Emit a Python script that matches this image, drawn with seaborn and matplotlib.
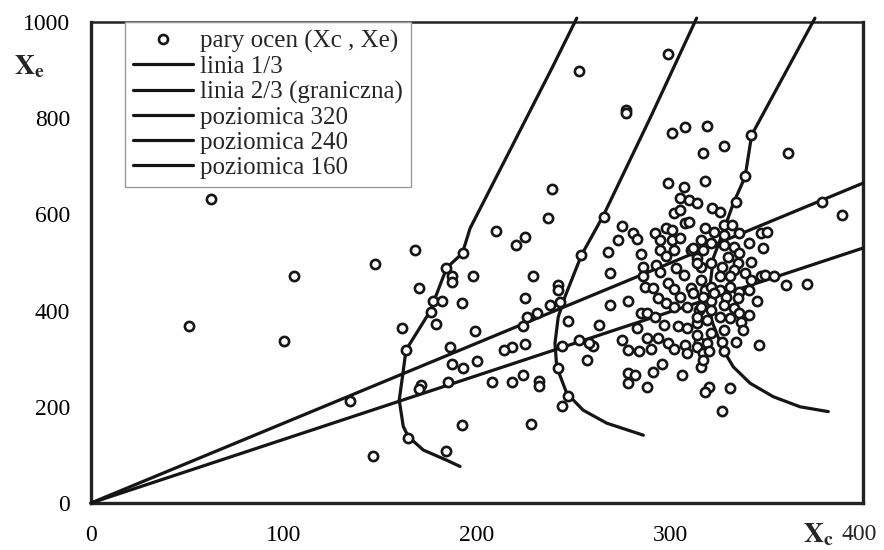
import matplotlib
matplotlib.use("Agg")
import matplotlib.pyplot as plt
from matplotlib.lines import Line2D
import seaborn as sns
import pandas as pd

# ---- data -------------------------------------------------------------
xc = [62, 51, 100, 105, 147, 168, 170, 161, 163, 134, 171, 170, 164, 146, 184,
      253, 239, 237, 210, 225, 220, 193, 254, 184, 187, 198, 187, 229, 242, 242,
      225, 177, 182, 192, 238, 243, 176, 231, 226, 179, 224, 247, 199, 186, 225,
      218, 214, 244, 253, 260, 258, 257, 187, 193, 200, 242, 185, 208, 218, 224,
      232, 232, 247, 244, 192, 228,
      299, 277, 277, 301, 308, 299, 307, 305, 310, 302, 305, 266, 275, 281, 283,
      273, 292, 298, 301, 308, 310, 268, 285, 269, 295, 295, 301, 305, 311, 298,
      302, 286, 293, 295, 303, 307, 314, 316, 286, 287, 291, 299, 302, 311, 318,
      278, 269, 285, 288, 294, 298, 305, 302, 309, 315, 321, 292, 297, 304, 309,
      314, 263, 283, 275, 288, 294, 299, 278, 284, 290, 302, 308, 315, 309, 296,
      291, 278, 282, 278, 288, 306,
      317, 319, 342, 328, 361, 339, 318, 334, 379, 389, 314, 322, 326, 328, 332,
      336, 318, 323, 328, 347, 350, 348, 341, 316, 321, 328, 333, 330, 312, 317,
      336, 342, 335, 314, 321, 327, 333, 339, 326, 331, 347, 349, 354, 360, 371,
      342, 341, 316, 321, 326, 331, 336, 312, 317, 323, 329, 345, 335, 316, 321,
      328, 333, 336, 341, 314, 319, 326, 331, 337, 338, 328, 321, 314, 334, 327,
      346, 319, 314, 317, 320, 328, 316, 317, 320, 318, 331, 327]
xe = [632, 368, 337, 472, 497, 527, 448, 364, 318, 213, 245, 236, 136, 98, 109,
      898, 652, 593, 566, 552, 536, 519, 516, 488, 471, 471, 460, 471, 453, 443,
      426, 419, 419, 415, 412, 417, 398, 394, 387, 372, 367, 379, 358, 324, 331,
      324, 318, 326, 339, 326, 332, 297, 290, 280, 295, 281, 252, 252, 252, 266,
      254, 243, 222, 202, 162, 164,
      934, 817, 810, 769, 782, 666, 656, 635, 629, 602, 609, 595, 576, 561, 548,
      547, 562, 571, 568, 582, 585, 521, 517, 478, 547, 527, 547, 550, 527, 514,
      527, 490, 495, 480, 488, 474, 509, 491, 471, 450, 446, 457, 444, 446, 443,
      420, 412, 396, 394, 426, 415, 429, 408, 408, 401, 419, 387, 370, 367, 363,
      374, 370, 363, 339, 342, 342, 332, 318, 317, 320, 320, 329, 335, 311, 290,
      273, 270, 266, 249, 242, 266,
      727, 784, 765, 742, 727, 680, 670, 625, 626, 599, 623, 613, 606, 578, 578,
      562, 571, 564, 557, 561, 564, 530, 540, 547, 540, 536, 533, 512, 530, 526,
      519, 502, 498, 498, 498, 491, 484, 478, 471, 471, 471, 474, 472, 453, 455,
      464, 443, 464, 450, 443, 450, 439, 436, 429, 436, 429, 419, 426, 408, 401,
      412, 405, 394, 391, 387, 381, 387, 384, 377, 360, 360, 353, 349, 335, 335,
      329, 332, 325, 311, 315, 315, 283, 297, 242, 231, 240, 191]

line_x = [0, 400]
line13_y = [0, 665]
line23_y = [0, 530]

c320_x = [375.1, 342.3, 338.9, 332.8, 328.5, 322.5, 320.5, 321.5, 327.6, 332.8, 341.5, 353.5, 367.4, 382.0]
c320_y = [1008, 765, 678, 623, 574, 510, 443, 380, 318, 283, 249, 221, 200, 190]

c240_x = [313.8, 290.5, 265.4, 254.2, 245.6, 242.1, 240.4, 241.3, 246.5, 255.0, 267.2, 286.2]
c240_y = [1008, 807, 597, 516, 429, 387, 332, 283, 228, 193, 166, 141]

c160_x = [251.7, 238.7, 196.4, 192.4, 184.3, 175.6, 163.2, 161.5, 159.7, 161.8, 164.4, 172.2, 184.3, 191.2]
c160_y = [1008, 903, 571, 519, 489, 398, 318, 266, 214, 159, 138, 110, 89, 76]

labels = ["pary ocen (Xc , Xe)", "linia 1/3", "linia 2/3 (graniczna)",
          "poziomica 320", "poziomica 240", "poziomica 160"]
xticks = [0, 100, 200, 300, 400]
yticks = [0, 200, 400, 600, 800, 1000]

# ---- style ------------------------------------------------------------
sns.set_theme(style="white")
plt.rcParams["font.family"] = ["Liberation Serif", "DejaVu Serif"]
plt.rcParams["mathtext.fontset"] = "stix"

INK = "#151515"
TICK_FS = 17
fig = plt.figure(figsize=(8.84, 5.5), dpi=100)
ax = fig.add_axes([91 / 884, 47 / 550, 772 / 884, 481 / 550])

lw = 2.3
curves = [(line_x, line13_y), (line_x, line23_y),
          (c320_x, c320_y), (c240_x, c240_y), (c160_x, c160_y)]
for cx, cy in curves:
    df = pd.DataFrame({"x": cx, "y": cy})
    sns.lineplot(data=df, x="x", y="y", sort=False, estimator=None,
                 color=INK, linewidth=lw, ax=ax, clip_on=False, zorder=3)

pts = pd.DataFrame({"Xc": xc, "Xe": xe})
sns.scatterplot(data=pts, x="Xc", y="Xe", ax=ax, marker="o", s=44,
                facecolor="white", edgecolor=INK, linewidth=1.9, zorder=4)

ax.set_xlim(0, 400)
ax.set_ylim(0, 1000)
ax.set_xticks(xticks)
ax.set_yticks(yticks)
ax.set_xticklabels([str(t) if t != 400 else "" for t in xticks])
ax.set_yticklabels([str(t) for t in yticks])
ax.set_xlabel("")
ax.set_ylabel("")
ax.tick_params(axis="both", which="both", direction="out", length=7,
               width=1, color="#777777", labelsize=TICK_FS, labelcolor="black")
ax.tick_params(axis="x", pad=9)
ax.tick_params(axis="y", pad=8)
for side in ["left", "bottom", "right", "top"]:
    ax.spines[side].set_color("#222222")
    ax.spines[side].set_linewidth(2.4 if side in ("left", "bottom", "right") else 1.8)

# axis labels
fig.text(859 / 884, 1 - 535 / 550, "400", ha="center", va="center", fontsize=TICK_FS)
fig.text(818 / 884, 1 - 535 / 550, r"$\mathbf{X_c}$", ha="center", va="center",
         fontsize=20)
fig.text(29 / 884, 1 - 67 / 550, r"$\mathbf{X_e}$", ha="center", va="center",
         fontsize=20)

handles = [Line2D([], [], marker="o", linestyle="none", markersize=6.5,
                  markerfacecolor="white", markeredgecolor=INK,
                  markeredgewidth=1.9)]
handles += [Line2D([], [], color=INK, linewidth=lw) for _ in range(5)]
leg = ax.legend(handles, labels, loc="upper left",
                bbox_to_anchor=(34 / 772, 1.0), borderaxespad=0,
                fontsize=18, frameon=True, fancybox=False, framealpha=1,
                edgecolor="#9a9a9a", handlelength=2.4, handletextpad=0.3,
                labelspacing=0.1, borderpad=0.32)
leg.get_frame().set_linewidth(1.0)
leg.set_zorder(5)

fig.savefig("out.png", dpi=100, facecolor="white")
